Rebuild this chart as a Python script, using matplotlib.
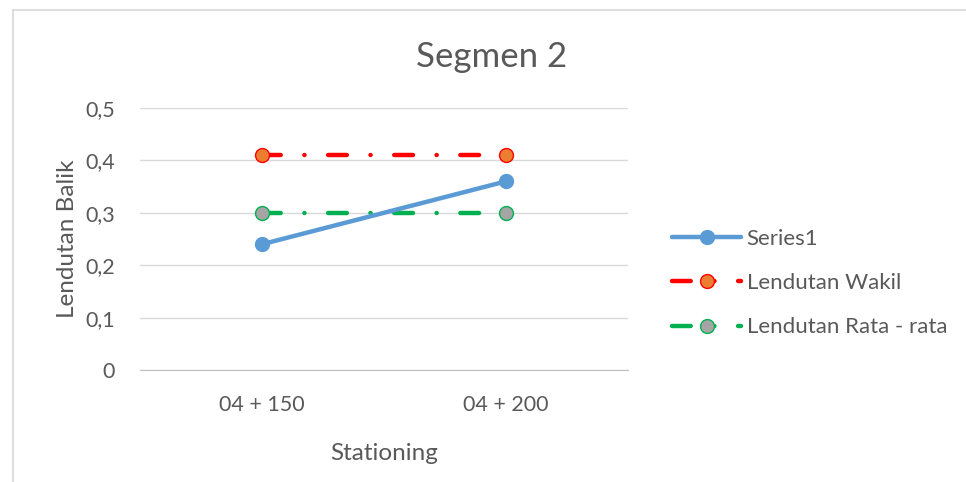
"""Segmen 2 - lendutan balik per stationing."""

import matplotlib
matplotlib.use("Agg")
import matplotlib.pyplot as plt
from matplotlib.lines import Line2D
from matplotlib.ticker import FuncFormatter

plt.rcParams['font.family'] = ['Lato', 'DejaVu Sans']
plt.rcParams['lines.scale_dashes'] = False

# data
stationing = ['04 + 150', '04 + 200']
series1 = [0.24, 0.36]
lendutan_wakil = [0.41, 0.41]
lendutan_rata = [0.30, 0.30]

TXT = '#595959'
dashdot = (0, (13.5, 17, 0.1, 17))

fig = plt.figure(figsize=(9.66, 4.82), dpi=100)
ax = fig.add_axes([140 / 966, 1 - 370 / 482, 488 / 966, 262 / 482])

x = list(range(len(stationing)))
ax.plot(x, series1, color='#5B9BD5', linewidth=3.2, marker='o',
        markersize=10, solid_capstyle='round', label='Series1', zorder=4)
ax.plot(x, lendutan_wakil, color='#FF0000', linewidth=3.2, linestyle=dashdot,
        dash_capstyle='round', marker='o', markersize=10,
        markerfacecolor='#ED7D31', markeredgecolor='#FF0000',
        markeredgewidth=1, label='Lendutan Wakil', zorder=3)
ax.plot(x, lendutan_rata, color='#00B050', linewidth=3.2, linestyle=dashdot,
        dash_capstyle='round', marker='o', markersize=10,
        markerfacecolor='#A5A5A5', markeredgecolor='#00B050',
        markeredgewidth=1, label='Lendutan Rata - rata', zorder=3)

ax.set_xlim(-0.5, 1.5)
ax.set_ylim(0, 0.5)
ax.set_xticks(x)
ax.set_xticklabels(stationing)
ax.set_yticks([0, 0.1, 0.2, 0.3, 0.4, 0.5])
ax.yaxis.set_major_formatter(FuncFormatter(
    lambda v, p: '0' if v == 0 else f'{v:.1f}'.replace('.', ',')))
ax.grid(axis='y', color='#D9D9D9', linewidth=1)
ax.set_axisbelow(True)
for s in ['top', 'right', 'left']:
    ax.spines[s].set_visible(False)
ax.spines['bottom'].set_color('#BFBFBF')
ax.tick_params(length=0, colors=TXT, labelsize=15.5)
ax.tick_params(axis='x', pad=18)
ax.tick_params(axis='y', pad=18)

ax.set_xlabel('Stationing', color=TXT, fontsize=17.5, labelpad=20)
ax.set_ylabel('Lendutan Balik', color=TXT, fontsize=17.5, labelpad=5)
fig.text(492 / 966, 1 - 57 / 482, 'Segmen 2', ha='center', va='center',
         color=TXT, fontsize=25)

leg = ax.legend(loc='center left', bbox_to_anchor=(661 / 966, 1 - 283 / 482),
                bbox_transform=fig.transFigure, frameon=False, fontsize=16,
                labelcolor=TXT, handlelength=3.1, handletextpad=0.25,
                labelspacing=1.1, borderpad=0)

# outer chart frame
fig.add_artist(Line2D([13 / 966, 13 / 966], [0, 1 - 10 / 482],
                      transform=fig.transFigure, color='#D9D9D9', linewidth=1.2))
fig.add_artist(Line2D([13 / 966, 1], [1 - 10 / 482, 1 - 10 / 482],
                      transform=fig.transFigure, color='#D9D9D9', linewidth=1.2))

plt.savefig('out.png', dpi=100)
plt.close()
